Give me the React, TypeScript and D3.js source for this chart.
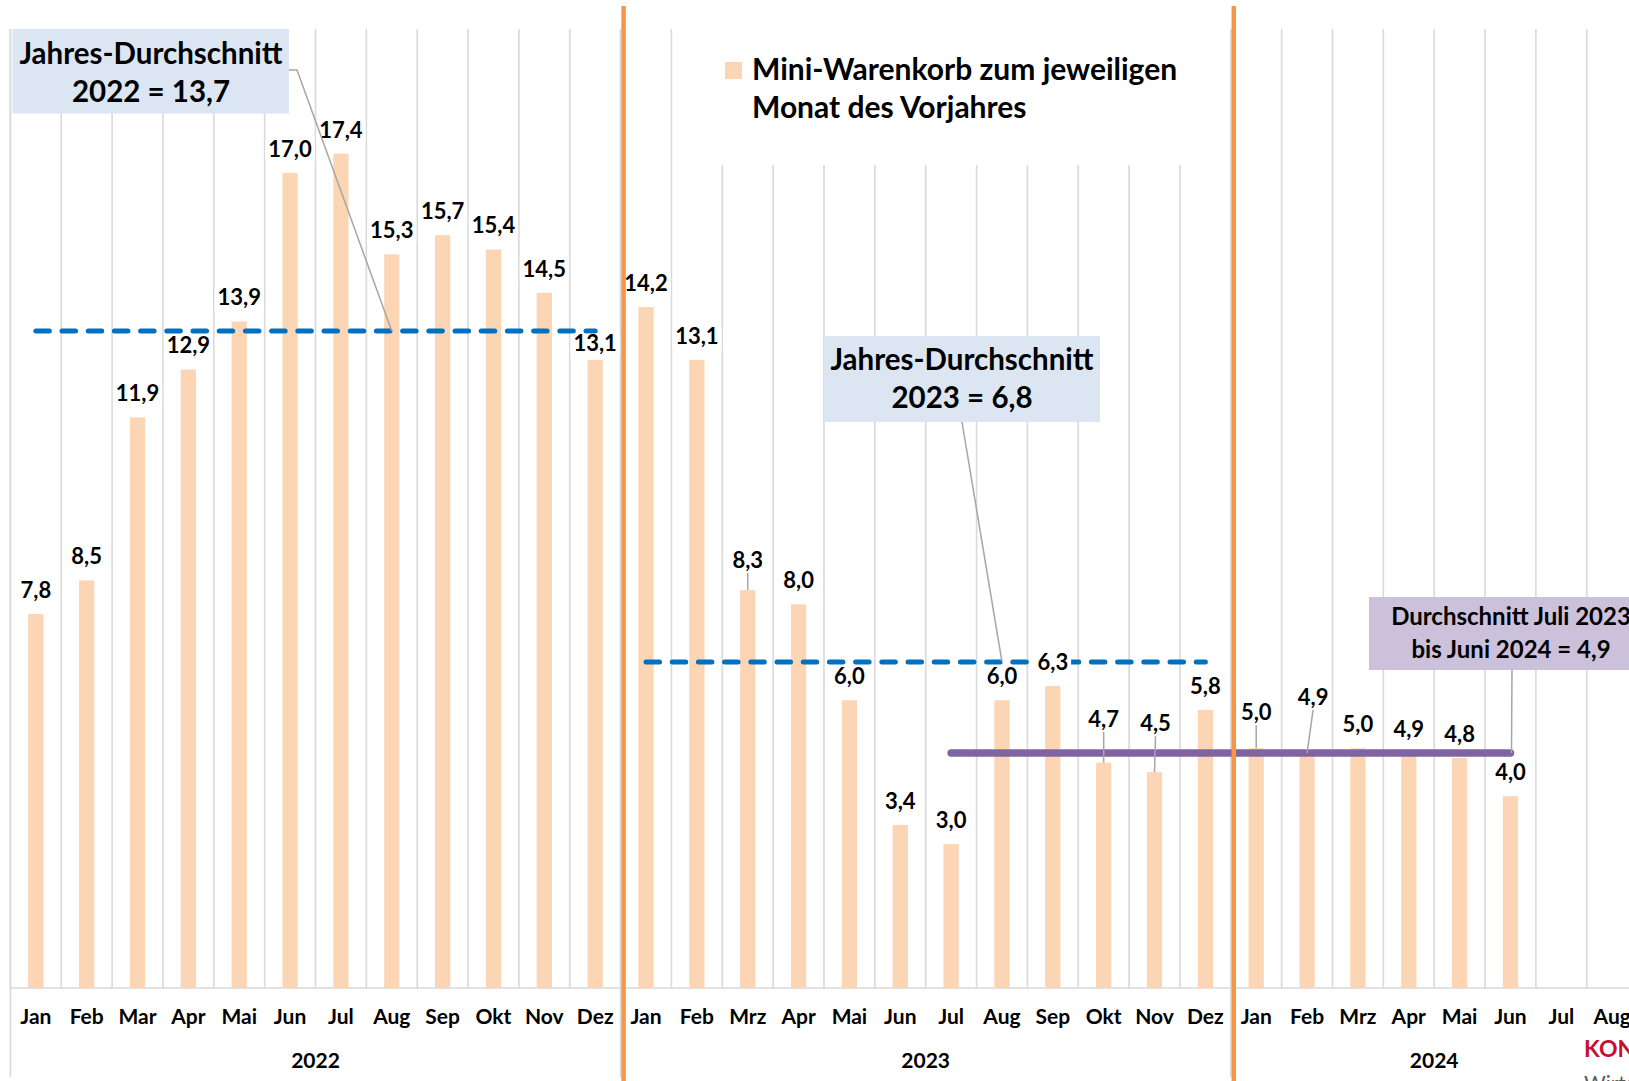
import { axisBottom, scaleBand, scaleLinear, select } from 'd3';
import { useEffect, useRef } from 'react';

const years = ['2022', '2023', '2024'];
const months2022 = ['Jan', 'Feb', 'Mar', 'Apr', 'Mai', 'Jun', 'Jul', 'Aug', 'Sep', 'Okt', 'Nov', 'Dez'];
const months2023 = ['Jan', 'Feb', 'Mrz', 'Apr', 'Mai', 'Jun', 'Jul', 'Aug', 'Sep', 'Okt', 'Nov', 'Dez'];
const months2024 = ['Jan', 'Feb', 'Mrz', 'Apr', 'Mai', 'Jun', 'Jul', 'Aug'];
const values2022 = [7.8, 8.5, 11.9, 12.9, 13.9, 17.0, 17.4, 15.3, 15.7, 15.4, 14.5, 13.1];
const values2023 = [14.2, 13.1, 8.3, 8.0, 6.0, 3.4, 3.0, 6.0, 6.3, 4.7, 4.5, 5.8];
const values2024 = [5.0, 4.9, 5.0, 4.9, 4.8, 4.0, null, null];
const avg2022 = 13.7;
const avg2023 = 6.8;
const avgJul23Jun24 = 4.9;
const legendLines = ['Mini-Warenkorb zum jeweiligen', 'Monat des Vorjahres'];

// label offsets (px) for labels that were moved by hand
const labelNudge: Record<string, { dx: number; dy: number; leader?: boolean }> = {
  '2022-Dez': { dx: 0, dy: 7 },
  '2023-Mrz': { dx: 0, dy: -6, leader: true },
  '2023-Okt': { dx: 0, dy: -20, leader: true },
  '2023-Nov': { dx: 1, dy: -25, leader: true },
  '2024-Jan': { dx: 0, dy: -12, leader: true },
  '2024-Feb': { dx: 6, dy: -32, leader: true },
};

const rows = [
  ...months2022.map((m, i) => ({ id: `2022-${m}`, year: '2022', month: m, value: values2022[i] })),
  ...months2023.map((m, i) => ({ id: `2023-${m}`, year: '2023', month: m, value: values2023[i] })),
  ...months2024.map((m, i) => ({ id: `2024-${m}`, year: '2024', month: m, value: values2024[i] })),
];

const W = 1629;
const H = 1081;
const FONT = 'Lato, "Open Sans", sans-serif';
const GRID = '#D9D9D9';
const BAR = '#FCD5B5';
const BLUE = '#0070C0';
const PURPLE = '#8064A2';
const ORANGE = '#F79646';
const LEADER = '#A6A6A6';
const LABEL_SIZE = 22;

const fmt = (v: number) => v.toFixed(1).replace('.', ',');

export default function App() {
  const gx = useRef(null);

  const left = 10.4;
  const step = 50.85;
  const x = scaleBand()
    .domain(rows.map((d) => d.id))
    .range([left, left + rows.length * step])
    .paddingInner(0.7)
    .paddingOuter(0.35);
  const y = scaleLinear().domain([0, 20]).range([988, 29]);
  const cx = (id: string) => x(id) + x.bandwidth() / 2;
  const bound = (i: number) => left + i * x.step();

  useEffect(() => {
    const g = select(gx.current);
    g.call(
      axisBottom(x)
        .tickSize(0)
        .tickPadding(21.5)
        .tickFormat((id: string) => id.split('-')[1]),
    );
    g.attr('font-size', 21).attr('font-family', FONT).attr('font-weight', 700);
    g.select('.domain').remove();
  }, []);

  const yearBounds = years.map((yr) => rows.findIndex((r) => r.year === yr));
  const tallLines = [0, ...yearBounds.slice(1)];

  const avgSegs = [
    { from: '2022-Jan', to: '2022-Dez', v: avg2022, color: BLUE, w: 5, dash: '13.5 12.7' },
    { from: '2023-Jan', to: '2023-Dez', v: avg2023, color: BLUE, w: 5, dash: '13.5 12.7' },
    { from: '2023-Jul', to: '2024-Jun', v: avgJul23Jun24, color: PURPLE, w: 7.5, dash: null },
  ];

  const digitW = LABEL_SIZE * 0.58;
  const labels = rows
    .filter((d) => d.value != null)
    .map((d) => {
      const n = labelNudge[d.id] || { dx: 0, dy: 0 };
      const top = y(d.value as number);
      const lx = cx(d.id) + n.dx;
      const base = top - 24 + (LABEL_SIZE * 0.72) / 2 + n.dy;
      const text = fmt(d.value as number);
      const tw = (text.length - 1) * digitW + 5;
      return { ...d, n, top, lx, base, text, tw };
    });

  return (
    <div style={{ position: 'fixed', left: 0, top: 0, width: W, height: H, overflow: 'hidden', background: '#fff' }}>
      <svg width={W} height={H} style={{ display: 'block' }} fontFamily={FONT}>
        {/* gridlines */}
        <g stroke={GRID} strokeWidth={1.6}>
          {rows.map((_, i) => (
            <line key={i} x1={bound(i)} x2={bound(i)} y1={y(20)} y2={y(0)} />
          ))}
          {tallLines.map((i) => (
            <line key={'t' + i} x1={bound(i)} x2={bound(i)} y1={y(20)} y2={1077} />
          ))}
          <line x1={left} x2={W} y1={y(0)} y2={y(0)} />
        </g>

        {/* legend backdrop hides the grid */}
        <rect x={692} y={0} width={506} height={165} fill='#fff' />

        {/* bars */}
        <g fill={BAR}>
          {rows
            .filter((d) => d.value != null)
            .map((d) => (
              <rect
                key={d.id}
                x={x(d.id)}
                y={y(d.value as number)}
                width={x.bandwidth()}
                height={y(0) - y(d.value as number)}
              />
            ))}
        </g>

        {/* average lines */}
        {avgSegs.map((s, i) => (
          <line
            key={i}
            x1={cx(s.from)}
            x2={cx(s.to)}
            y1={y(s.v)}
            y2={y(s.v)}
            stroke={s.color}
            strokeWidth={s.w}
            strokeLinecap='round'
            strokeDasharray={s.dash || undefined}
          />
        ))}

        {/* data labels */}
        <g fontSize={LABEL_SIZE} fontWeight={700} textAnchor='middle'>
          {labels.map((l) => (
            <g key={l.id}>
              {l.n.leader && (
                <line
                  x1={l.lx}
                  y1={l.base + 5}
                  x2={cx(l.id)}
                  y2={l.top}
                  stroke={LEADER}
                  strokeWidth={1.5}
                />
              )}
              <rect x={l.lx - l.tw / 2 - 3} y={l.base - 17} width={l.tw + 6} height={22} fill='#fff' />
              <text x={l.lx} y={l.base}>
                {l.text}
              </text>
            </g>
          ))}
        </g>

        {/* month axis */}
        <g ref={gx} transform={`translate(0, ${y(0)})`} />

        {/* year labels */}
        <g fontSize={21} fontWeight={700} textAnchor='middle'>
          {years.map((yr) => {
            const ids = rows.filter((r) => r.year === yr).map((r) => r.id);
            return (
              <text key={yr} x={(cx(ids[0]) + cx(ids[ids.length - 1])) / 2} y={1068}>
                {yr}
              </text>
            );
          })}
        </g>

        {/* annotations */}
        <g fontWeight={700} textAnchor='middle'>
          <polyline
            points={`289,70 297,70 ${cx('2022-Aug')},${y(avg2022)}`}
            fill='none'
            stroke={LEADER}
            strokeWidth={1.5}
          />
          <rect x={12.5} y={29} width={276.5} height={84.5} fill='#DCE6F2' />
          <text x={151} y={64} fontSize={29.5}>
            Jahres-Durchschnitt
          </text>
          <text x={151} y={102} fontSize={29.5}>
            2022 = {fmt(avg2022)}
          </text>

          <line x1={962} y1={422} x2={cx('2023-Aug')} y2={y(avg2023)} stroke={LEADER} strokeWidth={1.5} />
          <rect x={824} y={336} width={276} height={86} fill='#DCE6F2' />
          <text x={962} y={370} fontSize={29.5}>
            Jahres-Durchschnitt
          </text>
          <text x={962} y={408} fontSize={29.5}>
            2023 = {fmt(avg2023)}
          </text>

          <line x1={1512} y1={670} x2={cx('2024-Jun') + 1} y2={y(avgJul23Jun24)} stroke={LEADER} strokeWidth={1.5} />
          <rect x={1369} y={597} width={290} height={73} fill='#CCC1DA' />
          <text x={1511} y={625} fontSize={24}>
            Durchschnitt Juli 2023
          </text>
          <text x={1511} y={658} fontSize={24}>
            bis Juni 2024 = {fmt(avgJul23Jun24)}
          </text>
        </g>

        {/* year separators */}
        <g stroke={ORANGE} strokeWidth={4.5}>
          {yearBounds.slice(1).map((i) => (
            <line key={i} x1={bound(i) + 3} x2={bound(i) + 3} y1={6} y2={H} />
          ))}
        </g>

        {/* legend */}
        <rect x={725} y={62} width={17} height={17} fill={BAR} />
        <g fontSize={30} fontWeight={700}>
          {legendLines.map((t, i) => (
            <text key={i} x={752} y={80 + i * 38}>
              {t}
            </text>
          ))}
        </g>

        {/* source */}
        <text x={1584} y={1057} fontSize={23} fontWeight={700} fill='#C8102E'>
          KONSUMENT
        </text>
        <text x={1584} y={1091} fontSize={21} fill='#595959'>
          Wirtschaft
        </text>
      </svg>
    </div>
  );
}
